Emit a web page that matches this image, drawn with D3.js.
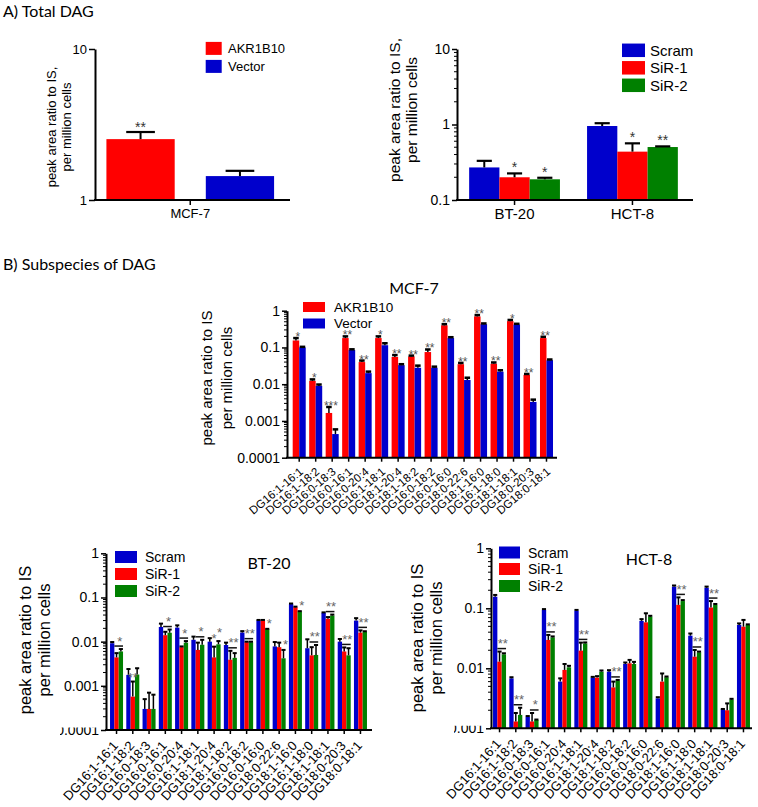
<!DOCTYPE html>
<html><head><meta charset="utf-8">
<script src="https://cdn.jsdelivr.net/npm/d3@7"></script>
<style>
body{margin:0;background:#fff}
svg{display:block}
text{font-family:"Liberation Sans",Arial,sans-serif}
.ttl{font-family:Lato,"Open Sans",sans-serif}
</style>
</head><body>
<svg id="c" width="758" height="807"></svg>
<script>
const RED="#FF0000", BLUE="#0000CC", GREEN="#008000";

// ---------- Panel A (total DAG) ----------
const aLeftGroups = ["MCF-7"];
const aLeftAKR = [2.53], aLeftAKRErr = [2.82];
const aLeftVec = [1.44], aLeftVecErr = [1.56];
const aLeftSig = ["**"];
const aLeftTicks = [1, 10], aLeftTickLabels = ["1", "10"];

const aRightGroups = ["BT-20", "HCT-8"];
const aRightScram = [0.27, 0.955], aRightScramErr = [0.33, 1.04];
const aRightSir1 = [0.2, 0.437], aRightSir1Err = [0.225, 0.563];
const aRightSir2 = [0.188, 0.503], aRightSir2Err = [0.197, 0.513];
const aRightSig1 = ["*", "*"], aRightSig2 = ["*", "**"];
const aRightTicks = [0.1, 1, 10], aRightTickLabels = ["0.1", "1", "10"];

// ---------- Panel B (subspecies) ----------
const dagSpecies = ["DG16:1-16:1","DG16:1-18:2","DG16:0-18:3","DG16:0-16:1","DG16:0-20:4","DG16:1-18:1","DG18:1-20:4","DG18:1-18:2","DG16:0-18:2","DG16:0-16:0","DG18:0-22:6","DG18:1-16:0","DG16:1-18:0","DG18:1-18:1","DG18:0-20:3","DG18:0-18:1"];

const mcfAKR    = [0.155,0.0123,0.00165,0.18,0.04,0.18,0.055,0.057,0.075,0.4,0.035,0.7,0.036,0.52,0.018,0.18];
const mcfAKRErr = [0.18,0.0135,0.0024,0.2,0.044,0.2,0.062,0.06,0.088,0.43,0.038,0.76,0.039,0.56,0.019,0.195];
const mcfVec    = [0.1,0.009,0.00044,0.085,0.02,0.115,0.033,0.028,0.028,0.18,0.013,0.43,0.022,0.42,0.0033,0.045];
const mcfVecErr = [0.104,0.0098,0.00059,0.089,0.022,0.13,0.035,0.032,0.03,0.19,0.015,0.45,0.024,0.44,0.0038,0.047];
const mcfSig = ["*","*","***","**","**","*","**","**","**","**","**","**","**","*","**","**"];
const mcfTicks = [0.0001,0.001,0.01,0.1,1], mcfTickLabels = ["0.0001","0.001","0.01","0.1","1"];

const btScram    = [0.0092,0.00177,0.0003,0.0215,0.0208,0.011,0.01,0.0084,0.0161,0.0303,0.0078,0.071,0.0071,0.045,0.01,0.03];
const btScramErr = [0.0098,0.0024,0.0005,0.0256,0.0234,0.013,0.012,0.0095,0.0173,0.031,0.0098,0.073,0.0113,0.046,0.0115,0.034];
const btSir1     = [0.0044,0.00057,0.0003,0.014,0.0075,0.0065,0.0044,0.0039,0.0097,0.03,0.0075,0.06,0.0049,0.033,0.006,0.016];
const btSir1Err  = [0.0055,0.00125,0.0007,0.0167,0.0078,0.0095,0.0077,0.0062,0.01,0.031,0.0095,0.062,0.0075,0.036,0.0074,0.018];
const btSir2     = [0.006,0.0018,0.0003,0.0159,0.0095,0.0085,0.0087,0.0043,0.0097,0.0191,0.0042,0.048,0.005,0.039,0.0049,0.0167];
const btSir2Err  = [0.0068,0.0025,0.00063,0.0188,0.0103,0.011,0.0103,0.0055,0.01,0.0195,0.0065,0.049,0.0084,0.041,0.0071,0.0172];
const btSig     = ["*","**","","*","*","*","*","**","**","*","*","*","**","**","**","**"];
const btSigMode = ["line","r","","line","line","line","rg","line","line","g","g","g","line","line","line","line"];
const btTicks = [0.0001,0.001,0.01,0.1,1], btTickLabels = ["0.0001","0.001","0.01","0.1","1"];

const hctScram    = [0.156,0.0068,0.00156,0.094,0.006,0.091,0.007,0.0088,0.0118,0.0616,0.00316,0.23,0.035,0.22,0.00207,0.0527];
const hctScramErr = [0.167,0.0071,0.0016,0.097,0.0068,0.094,0.0072,0.0093,0.0125,0.066,0.0033,0.24,0.038,0.23,0.0021,0.056];
const hctSir1     = [0.0129,0.0013,0.0013,0.0297,0.0094,0.0197,0.007,0.0048,0.0121,0.0584,0.006,0.114,0.0156,0.103,0.002,0.0494];
const hctSir1Err  = [0.019,0.0018,0.0018,0.036,0.0118,0.0268,0.0074,0.006,0.0138,0.0826,0.0082,0.152,0.0202,0.132,0.0026,0.064];
const hctSir2     = [0.0171,0.00167,0.00138,0.0328,0.0104,0.026,0.0088,0.0062,0.0118,0.0726,0.0071,0.132,0.0185,0.114,0.003,0.0527];
const hctSir2Err  = [0.0178,0.0022,0.0014,0.034,0.011,0.027,0.0092,0.0064,0.0128,0.075,0.0073,0.137,0.019,0.118,0.0031,0.054];
const hctSig     = ["**","**","*","**","","**","","**","","","","**","**","**","",""];
const hctSigMode = ["line","line","line","line","","line","","line","","","","line","line","line","",""];
const hctTicks = [0.001,0.01,0.1,1], hctTickLabels = ["0.001","0.01","0.1","1"];

const svg = d3.select("#c");
const defs = svg.append("defs");
let clipN = 0;

function panel(c){
  const g = svg.append("g");
  const y = d3.scaleLog().domain(c.yDomain).range(c.yRange);
  const x0 = d3.scaleBand().domain(c.cats).range(c.xRange).paddingInner(c.padIn).paddingOuter(c.padOut);
  const x1 = d3.scaleBand().domain(c.series.map(s=>s.name)).range([0, x0.bandwidth()]).paddingInner(c.innerPad||0);
  const base = c.yRange[0];
  c.series.forEach(s=>{
    g.append("g").selectAll("rect").data(c.cats).join("rect")
      .attr("x", d=>x0(d)+x1(s.name)).attr("width", x1.bandwidth())
      .attr("y", (d,i)=>y(s.vals[i])).attr("height", (d,i)=>base - y(s.vals[i]))
      .attr("fill", s.color);
  });
  const cw = x1.bandwidth()*c.capFrac;
  c.series.forEach(s=>{
    const eg = g.append("g").attr("stroke","#000");
    c.cats.forEach((d,i)=>{
      const cx = x0(d)+x1(s.name)+x1.bandwidth()/2;
      const yt = y(s.errs[i]);
      eg.append("line").attr("x1",cx).attr("x2",cx).attr("y1",y(s.vals[i])).attr("y2",yt).attr("stroke-width",c.errW);
      eg.append("line").attr("x1",cx-cw/2).attr("x2",cx+cw/2).attr("y1",yt).attr("y2",yt).attr("stroke-width",c.capW);
    });
  });
  // y axis
  const ax = g.append("g").attr("transform",`translate(${c.axisX},0)`)
    .call(d3.axisLeft(y).tickValues(c.ticks).tickFormat((d,i)=>c.tickLabels[i])
      .tickSize(c.majorLen).tickSizeOuter(0).tickPadding(c.tickPad));
  ax.select(".domain").attr("stroke","#000").attr("stroke-width",c.axisW);
  ax.selectAll(".tick line").attr("stroke","#000").attr("stroke-width",1.5);
  ax.selectAll(".tick text").attr("fill","#000").style("font-size",c.tickFont+"px").style("font-family",'"Liberation Sans",Arial,sans-serif');
  if(c.clipLabel){
    const id = "clp"+(clipN++);
    defs.append("clipPath").attr("id",id).append("rect")
      .attr("x",c.clipLabel.x).attr("y",c.clipLabel.y).attr("width",200).attr("height",100);
    ax.selectAll(".tick").filter((d,i)=>i===c.clipLabel.index).select("text").attr("clip-path",`url(#${id})`);
  }
  if(c.minor){
    const mt = y.ticks().filter(v=>!c.ticks.some(t=>Math.abs(t-v)/t<1e-6));
    g.append("g").selectAll("line").data(mt).join("line")
      .attr("x1",c.axisX-c.minorLen).attr("x2",c.axisX).attr("y1",d=>y(d)).attr("y2",d=>y(d))
      .attr("stroke","#000").attr("stroke-width",1);
  }
  // x axis
  g.append("line").attr("x1",c.axisX-c.axisW/2).attr("x2",c.xEnd).attr("y1",base).attr("y2",base)
    .attr("stroke","#000").attr("stroke-width",c.axisW);
  g.append("g").selectAll("line").data(c.cats).join("line")
    .attr("x1",d=>x0(d)+x0.bandwidth()/2).attr("x2",d=>x0(d)+x0.bandwidth()/2)
    .attr("y1",base).attr("y2",base+c.xTickLen).attr("stroke","#000").attr("stroke-width",1.5);
  if(c.xLab.mode==="h"){
    g.append("g").selectAll("text").data(c.cats).join("text")
      .attr("x",d=>x0(d)+x0.bandwidth()/2).attr("y",base+c.xLab.dy)
      .attr("text-anchor","middle").style("font-size",c.xLab.font+"px").text(d=>d);
  } else {
    g.append("g").selectAll("text").data(c.cats).join("text")
      .attr("transform",d=>`translate(${x0(d)+x0.bandwidth()/2+c.xLab.dx},${base+c.xLab.dy}) rotate(${c.xLab.angle})`)
      .attr("text-anchor","end").attr("dy","0.35em").style("font-size",c.xLab.font+"px").text(d=>d);
  }
  // y label
  c.yLab.lines.forEach((t,k)=>{
    g.append("text").attr("transform",`translate(${c.yLab.x[k]},${c.yLab.y}) rotate(-90)`)
      .attr("text-anchor","middle").attr("dy","0.35em").style("font-size",c.yLab.font+"px").text(t);
  });
  // legend
  const L = c.legend;
  c.series.forEach((s,k)=>{
    const ly = L.cy[k];
    g.append("rect").attr("x",L.x).attr("y",ly-L.h/2).attr("width",L.w).attr("height",L.h).attr("fill",s.color);
    g.append("text").attr("x",L.tx).attr("y",ly).attr("dy","0.36em").style("font-size",L.font+"px").text(s.name);
  });
  return {g,x0,x1,y,base};
}

// ---------- titles ----------
svg.append("text").attr("class","ttl").attr("x",3).attr("y",17).style("font-size","16px").text("A) Total DAG");
svg.append("text").attr("class","ttl").attr("x",3).attr("y",270).style("font-size","16px").text("B) Subspecies of DAG");

// ---------- A left ----------
const pAL = panel({
  cats: aLeftGroups,
  series: [{name:"AKR1B10", vals:aLeftAKR, errs:aLeftAKRErr, color:RED},
           {name:"Vector", vals:aLeftVec, errs:aLeftVecErr, color:BLUE}],
  yDomain:[1,10], yRange:[200,49], xRange:[93,287.5], padIn:0, padOut:0.08, innerPad:0.313,
  axisX:95, xEnd:290, ticks:aLeftTicks, tickLabels:aLeftTickLabels, majorLen:6, tickPad:2, tickFont:13,
  minor:false, axisW:2, capFrac:0.42, errW:2, capW:2.2, xTickLen:5,
  xLab:{mode:"h", font:13, dy:18},
  yLab:{lines:["peak area ratio to IS,","per million cells"], x:[51,66], y:127, font:13},
  legend:{x:205.7, w:16, h:13, cy:[48.4,66.4], tx:228, font:13}
});
aLeftSig.forEach((s,i)=>{
  pAL.g.append("text").attr("x",pAL.x0(aLeftGroups[i])+pAL.x1("AKR1B10")+pAL.x1.bandwidth()/2)
    .attr("y",pAL.y(aLeftAKRErr[i])-0.5).attr("text-anchor","middle").style("font-size","14px").attr("fill","#333").text(s);
});

// ---------- A right ----------
const pAR = panel({
  cats: aRightGroups,
  series: [{name:"Scram", vals:aRightScram, errs:aRightScramErr, color:BLUE},
           {name:"SiR-1", vals:aRightSir1, errs:aRightSir1Err, color:RED},
           {name:"SiR-2", vals:aRightSir2, errs:aRightSir2Err, color:GREEN}],
  yDomain:[0.1,10], yRange:[200,49], xRange:[455,692], padIn:0.23, padOut:0.12, innerPad:0,
  axisX:457, xEnd:693, ticks:aRightTicks, tickLabels:aRightTickLabels, majorLen:5, tickPad:2, tickFont:14,
  minor:true, minorLen:3, axisW:2, capFrac:0.5, errW:2, capW:2.2, xTickLen:5,
  xLab:{mode:"h", font:15, dy:19},
  yLab:{lines:["peak area ratio to IS,","per million cells"], x:[395,412], y:110, font:15.5},
  legend:{x:622, w:23, h:13.5, cy:[50.3,67.8,85.3], tx:650, font:15}
});
[[aRightSig1,"SiR-1",aRightSir1Err],[aRightSig2,"SiR-2",aRightSir2Err]].forEach(([sig,nm,err])=>{
  sig.forEach((s,i)=>{
    if(!s) return;
    pAR.g.append("text").attr("x",pAR.x0(aRightGroups[i])+pAR.x1(nm)+pAR.x1.bandwidth()/2)
      .attr("y",pAR.y(err[i])-1).attr("text-anchor","middle").style("font-size","14px").attr("fill","#333").text(s);
  });
});

// ---------- MCF-7 ----------
const pM = panel({
  cats: dagSpecies,
  series: [{name:"AKR1B10", vals:mcfAKR, errs:mcfAKRErr, color:RED},
           {name:"Vector", vals:mcfVec, errs:mcfVecErr, color:BLUE}],
  yDomain:[0.0001,1], yRange:[457.7,310.7], xRange:[289.4,556.3], padIn:0.21, padOut:0.2, innerPad:0,
  axisX:287, xEnd:557, ticks:mcfTicks, tickLabels:mcfTickLabels, majorLen:5, tickPad:2, tickFont:14,
  minor:true, minorLen:3, axisW:2, capFrac:0.85, errW:1.5, capW:2.5, xTickLen:4,
  xLab:{mode:"r", font:11.5, angle:-40, dx:2, dy:12},
  yLab:{lines:["peak area ratio to IS","per million cells"], x:[207,227], y:378, font:15},
  legend:{x:303, w:22, h:10, cy:[307,323.5], tx:334, font:13.5}
});
svg.append("text").attr("class","ttl").attr("x",414).attr("y",294).attr("text-anchor","middle").style("font-size","16px").text("MCF-7");
mcfSig.forEach((s,i)=>{
  if(!s) return;
  pM.g.append("text").attr("x",pM.x0(dagSpecies[i])+pM.x1("AKR1B10")+pM.x1.bandwidth()/2+2)
    .attr("y",pM.y(mcfAKRErr[i])+3).attr("text-anchor","middle").style("font-size","12px").attr("fill","#555").text(s);
});

// ---------- significance for triple panels ----------
function sigTriple(p, sig, mode, rErr, gErr){
  const bw = p.x1.bandwidth();
  sig.forEach((s,i)=>{
    if(!s) return;
    const c = dagSpecies[i];
    const xr = p.x0(c)+p.x1("SiR-1"), xg = p.x0(c)+p.x1("SiR-2");
    const m = mode[i];
    const st = (x,y,t)=>p.g.append("text").attr("x",x).attr("y",y).attr("text-anchor","middle")
      .style("font-size","13px").attr("fill","#666").text(t);
    if(m==="line"){
      const ly = Math.min(p.y(rErr[i]), p.y(gErr[i])) - 3;
      p.g.append("line").attr("x1",xr).attr("x2",xg+bw).attr("y1",ly).attr("y2",ly).attr("stroke","#111").attr("stroke-width",1.5);
      st((xr+xg+bw)/2+1, ly-0.5, s);
    } else if(m==="r"){
      st(xr+bw/2, p.y(rErr[i]), s);
    } else if(m==="g"){
      st(xg+bw/2+2, p.y(gErr[i])-1, s);
    } else if(m==="rg"){
      st(xr+bw/2, p.y(rErr[i])-4, s);
      st(xg+bw/2+1, p.y(gErr[i])-4, s);
    }
  });
}

// ---------- BT-20 ----------
const pB = panel({
  cats: dagSpecies,
  series: [{name:"Scram", vals:btScram, errs:btScramErr, color:BLUE},
           {name:"SiR-1", vals:btSir1, errs:btSir1Err, color:RED},
           {name:"SiR-2", vals:btSir2, errs:btSir2Err, color:GREEN}],
  yDomain:[0.0001,1], yRange:[730,553.3], xRange:[108.4,368.6], padIn:0.2, padOut:0.1, innerPad:0,
  axisX:106, xEnd:372, ticks:btTicks, tickLabels:btTickLabels, majorLen:5, tickPad:2, tickFont:14,
  minor:true, minorLen:3, axisW:2, capFrac:0.95, errW:1.5, capW:2, xTickLen:4,
  clipLabel:{index:0, x:-46, y:-3},
  xLab:{mode:"r", font:13, angle:-48, dx:-1, dy:13},
  yLab:{lines:["peak area ratio to IS","per million cells"], x:[25,44.5], y:640, font:16.5},
  legend:{x:115, w:22, h:12, cy:[557,574,591], tx:145, font:14}
});
svg.append("text").attr("class","ttl").attr("x",269).attr("y",569).attr("text-anchor","middle").style("font-size","16px").text("BT-20");
sigTriple(pB, btSig, btSigMode, btSir1Err, btSir2Err);

// ---------- HCT-8 ----------
const pH = panel({
  cats: dagSpecies,
  series: [{name:"Scram", vals:hctScram, errs:hctScramErr, color:BLUE},
           {name:"SiR-1", vals:hctSir1, errs:hctSir1Err, color:RED},
           {name:"SiR-2", vals:hctSir2, errs:hctSir2Err, color:GREEN}],
  yDomain:[0.001,1], yRange:[728.3,548.3], xRange:[491.4,751.6], padIn:0.2, padOut:0.1, innerPad:0,
  axisX:491, xEnd:752, ticks:hctTicks, tickLabels:hctTickLabels, majorLen:5, tickPad:2, tickFont:14,
  minor:true, minorLen:3, axisW:2, capFrac:0.95, errW:1.5, capW:2, xTickLen:4,
  clipLabel:{index:0, x:-37, y:-3},
  xLab:{mode:"r", font:13, angle:-48, dx:-1, dy:13},
  yLab:{lines:["peak area ratio to IS","per million cells"], x:[417,436], y:638, font:16.5},
  legend:{x:499, w:21, h:12, cy:[552.5,569,586], tx:528, font:14}
});
svg.append("text").attr("class","ttl").attr("x",649).attr("y",565).attr("text-anchor","middle").style("font-size","16px").text("HCT-8");
sigTriple(pH, hctSig, hctSigMode, hctSir1Err, hctSir2Err);
</script>
</body></html>
